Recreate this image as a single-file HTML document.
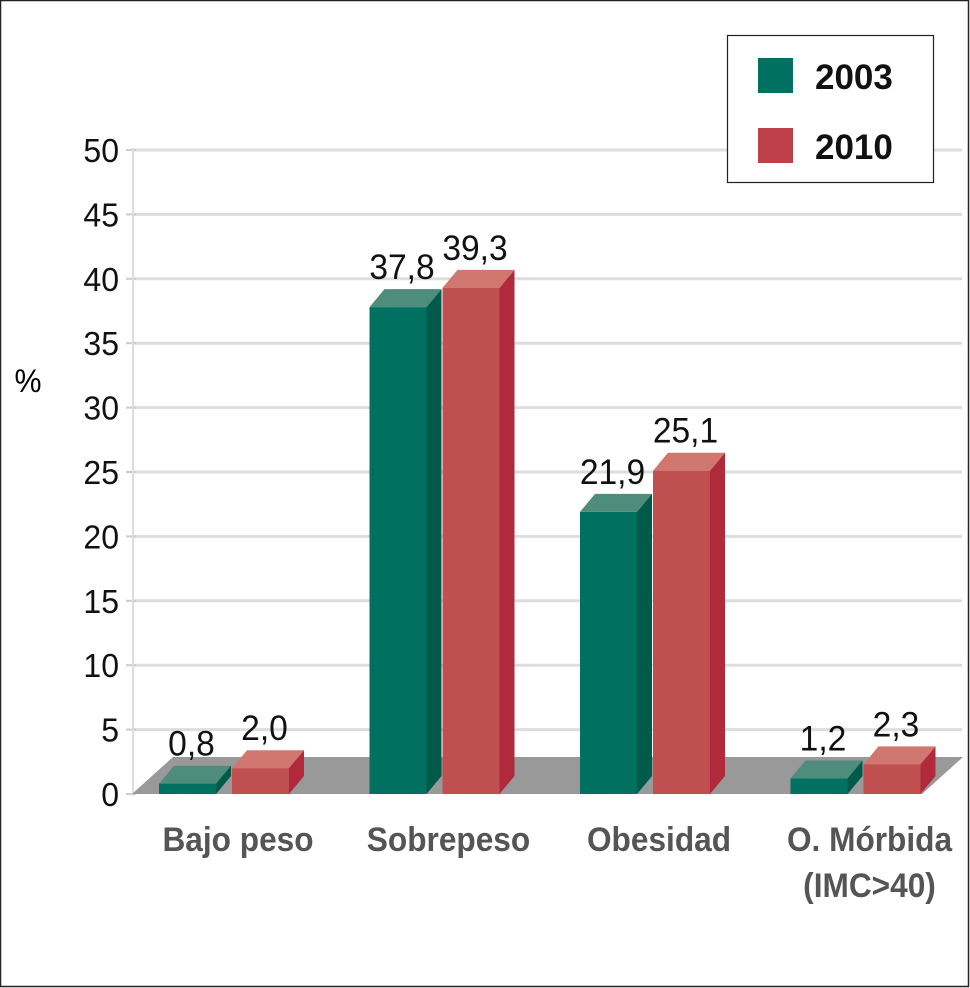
<!DOCTYPE html>
<html><head><meta charset="utf-8"><style>
html,body{margin:0;padding:0;background:#fff}
svg{display:block}
text{font-family:"Liberation Sans Narrow","Liberation Sans",sans-serif}
</style></head><body>
<svg id="chart" width="970" height="988" viewBox="0 0 970 988" xmlns="http://www.w3.org/2000/svg">
<rect x="0.5" y="0.5" width="968" height="986" fill="#fff" stroke="#222" stroke-width="1.5"/>
<g id="grid"></g>
<polygon points="132,794 173,757 963,757 922,794" fill="#999"/>
<g id="bars"></g>
<g id="labels"></g>
<text transform="translate(28,392) scale(0.95,1)" font-size="32" text-anchor="middle">%</text>
<g>
<rect x="727.5" y="35.5" width="206" height="147" fill="#fff" stroke="#222" stroke-width="1.2"/>
<rect x="758" y="58" width="35" height="35" fill="#007060"/>
<text transform="translate(815,89) scale(1,1)" font-size="35" font-weight="bold" fill="#111">2003</text>
<rect x="758" y="128" width="35" height="35" fill="#c0404a"/>
<text transform="translate(815,159) scale(1,1)" font-size="35" font-weight="bold" fill="#111">2010</text>
</g>
</svg>
<script>
const categories = ["Bajo peso","Sobrepeso","Obesidad","O. Mórbida"];
const values2003 = [0.8, 37.8, 21.9, 1.2];
const values2010 = [2.0, 39.3, 25.1, 2.3];
const valueLabels2003 = ["0,8","37,8","21,9","1,2"];
const valueLabels2010 = ["2,0","39,3","25,1","2,3"];
const yTicks = [0,5,10,15,20,25,30,35,40,45,50];

const NS="http://www.w3.org/2000/svg";
const y0=794, y50=150;
function yScale(v){return y0-(y0-y50)*v/50;}
function xGroup(i){return 159+i*210.5;}
const barW=57, gap=16, dx=15, dy=18;
function mk(tag,attrs,parent){const e=document.createElementNS(NS,tag);for(const k in attrs)e.setAttribute(k,attrs[k]);parent.appendChild(e);return e;}
function txt(x,y,sx,attrs,parent){attrs.transform=`translate(${x},${y}) scale(${sx},1)`;return mk('text',attrs,parent);}
const grid=document.getElementById('grid'), bars=document.getElementById('bars'), labels=document.getElementById('labels');
yTicks.forEach(t=>{
  const y=yScale(t);
  if(t>0){const l=mk('line',{x1:133,x2:962,y1:y,y2:y,stroke:'#ddd','stroke-width':3},grid);
  
  }
  const tk=mk('line',{x1:126,x2:136,y1:y,y2:y,stroke:'#ccc','stroke-width':2},grid);
  
  
  const tx=txt(119,y+12,0.97,{'font-size':33,'text-anchor':'end',fill:'#111'},labels);
  tx.textContent=t;
  
  
});
const ax=mk('line',{x1:133,x2:133,y1:148,y2:796,stroke:'#ddd','stroke-width':2},grid);


function bar(x,v,cols,name,lab){
  const g=mk('g',{},bars);
  
  
  const top=yScale(v);
  mk('polygon',{points:`${x},${top} ${x+dx},${top-dy} ${x+barW+dx},${top-dy} ${x+barW},${top}`,fill:cols[2]},g);
  mk('polygon',{points:`${x+barW},${top} ${x+barW+dx},${top-dy} ${x+barW+dx},${y0-dy} ${x+barW},${y0}`,fill:cols[1]},g);
  mk('rect',{x:x,y:top,width:barW,height:y0-top,fill:cols[0]},g);
  const t=txt(x+barW/2+4,top-dy-10,0.96,{'font-size':35,'text-anchor':'middle',fill:'#111'},labels);
  t.textContent=lab;
  
  
}
categories.forEach((c,i)=>{
  const x=xGroup(i);
  bar(x,values2003[i],['#007060','#005a4a','#4e8c7c'],'bar-2003-'+i,valueLabels2003[i]);
  bar(x+barW+gap,values2010[i],['#c05050','#b02a3c','#d07870'],'bar-2010-'+i,valueLabels2010[i]);
  const cx=x+barW+gap/2+14;
  const t=txt(cx,851,0.93,{'font-size':34,'font-weight':'bold','text-anchor':'middle',fill:'#555'},labels);
  t.textContent=c;
  
  
  if(i===3){const t2=txt(cx,897,0.93,{'font-size':34,'font-weight':'bold','text-anchor':'middle',fill:'#555'},labels);
  t2.textContent='(IMC>40)';
  
  }
});
</script>
</body></html>
